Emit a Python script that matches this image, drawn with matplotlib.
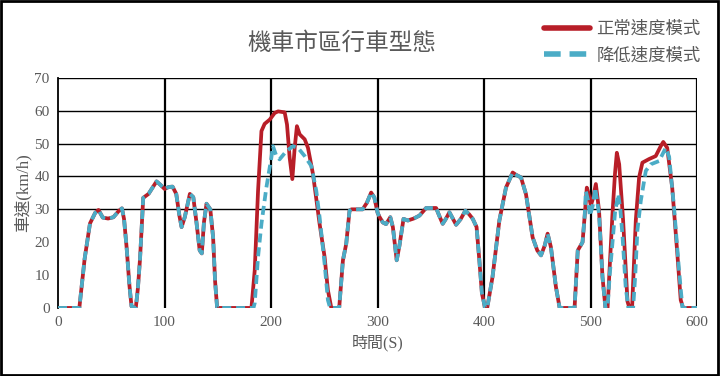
import matplotlib
matplotlib.use("Agg")
import matplotlib.pyplot as plt
from matplotlib.patches import Rectangle

plt.rcParams['font.family'] = ['Liberation Serif', 'Noto Sans CJK TC', 'DejaVu Sans']

title = "機車市區行車型態"
xlabel = "時間(S)"
ylabel = "車速(km/h)"
label_normal = "正常速度模式"
label_reduced = "降低速度模式"

t_normal = [0, 20, 25, 30, 35, 38, 42, 47, 52, 57, 60, 62, 64.4, 67, 69, 73, 75, 77, 80, 85,
            90, 92.5, 96, 100, 104, 107.5, 111, 114, 116, 119, 123.8, 127, 130, 133, 135, 137,
            139.4, 143, 145.6, 147.5, 149.4, 181.6, 184.7, 187.8, 191, 194, 198.8, 203.4, 206.6,
            212.8, 215, 217.5, 220, 222.2, 224.3, 226.9, 231.6, 234.7, 239.4, 245.6, 250.3, 253.4,
            256.6, 264, 267.5, 270.6, 273.7, 275.5, 286, 290, 294, 297, 300, 302, 305, 308, 312,
            314.4, 318, 320.6, 324.4, 328.4, 334, 339.4, 345.6, 355, 358, 361.2, 364, 367.5, 373.8,
            378, 382.5, 386, 389.4, 393, 395.6, 398, 401, 403, 408, 414.4, 420.6, 426.9, 430,
            434.7, 439.4, 445.6, 450, 453.5, 457, 459.7, 462.8, 467.5, 471, 485, 488, 492.5, 495,
            496.5, 498, 500.3, 502, 505, 508, 511.2, 514, 516, 520.6, 523, 524.7, 526.9, 530.6,
            534.7, 536.5, 539, 542.5, 545.6, 548.7, 555, 561.2, 565.9, 568.3, 572, 576.7, 581.5,
            584.7, 587, 600]
v_normal = [0, 0, 15, 25.7, 29, 29.8, 27.5, 27.2, 27.6, 29.5, 30.3, 27, 18.4, 7, 0.5, 0, 6, 15,
            33.5, 34.7, 37.2, 38.5, 37.5, 36.2, 36.8, 36.9, 34.7, 28, 24.6, 27.6, 34.7, 33.7, 26,
            17.5, 16.6, 26, 31.7, 30, 21.5, 8, 0, 0, 11.5, 35.6, 53.8, 56, 57.3, 59.3, 59.8, 59.5,
            55.8, 45.7, 39.2, 48.7, 55.3, 52.8, 51.3, 48.7, 40.7, 25.6, 15.5, 5.4, 0, 0, 14.5,
            19.5, 29.6, 30, 30, 32, 35.1, 33.6, 29, 27.6, 26, 25.5, 27.6, 24.6, 14.5, 19, 27.1,
            26.6, 27.2, 28.1, 30.4, 30.4, 28, 25.6, 27, 29.1, 25.3, 27, 29.6, 28.5, 27.1, 24.6,
            14.5, 4.5, 0, 0, 9.5, 26.6, 36.6, 41.2, 40.5, 39.7, 34.6, 21.5, 17.5, 16, 19, 22.6,
            18.5, 6.4, 0, 0, 17.5, 20, 30, 36.6, 35, 31.1, 33, 37.7, 29.6, 9.5, 0, 0, 28.6, 41,
            47.2, 43.7, 26.6, 2, 0, 0, 26.6, 39.7, 44.2, 45.3, 46.2, 49.2, 50.5, 48.7, 36.6, 16.5,
            2.4, 0, 0]

t_reduced = [0, 20, 25, 30, 35, 38, 42, 47, 52, 57, 60, 62, 64.4, 67, 69, 73, 75, 77, 80, 85,
             90, 92.5, 96, 100, 104, 107.5, 111, 114, 116, 119, 123.8, 127, 130, 133, 135, 137,
             139.4, 143, 145.6, 147.5, 149.4, 183.5, 184.7, 187.8, 191, 195.6, 200.3, 201.8, 205,
             208, 214.4, 220.6, 225.3, 231.6, 237.8, 242.5, 245.6, 250.3, 253.4, 255.5, 264,
             267.5, 270.6, 273.7, 275.5, 286, 290, 294, 297, 300, 302, 305, 308, 312, 314.4, 318,
             320.6, 324.4, 328.4, 334, 339.4, 345.6, 355, 358, 361.2, 364, 367.5, 373.8, 378,
             382.5, 386, 389.4, 393, 395.6, 398, 401, 403, 408, 414.4, 420.6, 426.9, 430, 434.7,
             439.4, 445.6, 450, 453.5, 457, 459.7, 462.8, 467.5, 471, 485, 488, 492.5, 494.5,
             495.6, 497.5, 499.4, 502, 504.4, 508, 511.2, 514, 516, 518, 520.6, 523, 526, 528, 530,
             533, 535.5, 540, 542, 544, 547.2, 551.9, 556.6, 564.4, 568, 570.6, 573.8, 578.4,
             583.1, 586.3, 600]
v_reduced = [0, 0, 15, 25.7, 29, 29.8, 27.5, 27.2, 27.6, 29.5, 30.3, 27, 18.4, 7, 0.5, 0, 6, 15,
             33.5, 34.7, 37.2, 38.5, 37.5, 36.2, 36.8, 36.9, 34.7, 28, 24.6, 27.6, 34.7, 33.7, 26,
             17.5, 16.6, 26, 31.7, 30, 21.5, 8, 0, 0, 1.5, 15.5, 25.6, 36.6, 45.7, 49.2, 46.2,
             45.2, 47.7, 49.2, 48.7, 46.2, 43.2, 35.6, 27.6, 13.5, 2.4, 0, 0, 14.5, 19.5, 29.6,
             30, 30, 32, 35.1, 33.6, 29, 27.6, 26, 25.5, 27.6, 24.6, 14.5, 19, 27.1, 26.6, 27.2,
             28.1, 30.4, 30.4, 28, 25.6, 27, 29.1, 25.3, 27, 29.6, 28.5, 27.1, 24.6, 14.5, 4.5, 0,
             0, 9.5, 26.6, 36.6, 41.2, 40.5, 39.7, 34.6, 21.5, 17.5, 16, 19, 22.6, 18.5, 6.4, 0,
             0, 17.5, 20, 28, 35.5, 33, 28, 31, 36.5, 28.6, 9.5, 0, 0, 10, 20, 29, 34.6, 30, 22,
             6.4, 0, 0, 10, 23.6, 32.6, 41.7, 43.7, 44.7, 47, 48.7, 46, 30.6, 11.5, 0, 0]

x_ticks = [0, 100, 200, 300, 400, 500, 600]
y_ticks = [0, 10, 20, 30, 40, 50, 60, 70]
y_grid = [30, 40, 50, 60, 70]

red = '#B81E28'
blue = '#4BACC6'
text_col = '#595959'

fig = plt.figure(figsize=(7.2, 3.76), dpi=100)
ax = fig.add_axes([0.0806, 0.181, 0.8875, 0.612])

for g in y_grid:
    ax.axhline(g, color='black', lw=1.0, zorder=1)
for g in x_ticks[1:]:
    ax.axvline(g, color='black', lw=1.6, zorder=1)

ax.plot(t_normal, v_normal, color=red, lw=2.7, label=label_normal, zorder=3,
        solid_joinstyle='round', solid_capstyle='round')
ax.plot(t_reduced, v_reduced, color=blue, lw=2.7, linestyle=(0, (2.4, 1.3)),
        label=label_reduced, zorder=4)

ax.set_xlim(0, 600)
ax.set_ylim(0, 70)
ax.set_xticks(x_ticks)
ax.set_yticks(y_ticks)
ax.tick_params(length=0, labelsize=11, colors=text_col, pad=6)
for s in ['top', 'right', 'bottom']:
    ax.spines[s].set_visible(False)
ax.spines['left'].set_color('black')
ax.spines['left'].set_linewidth(1.3)

ax.set_xlabel(xlabel, fontsize=11.5, color=text_col, labelpad=4)
ax.set_ylabel(ylabel, fontsize=12, color=text_col, labelpad=2)
fig.text(0.475, 0.885, title, fontsize=17, color=text_col, ha='center', va='center')

leg = fig.legend(loc='upper right', bbox_to_anchor=(0.995, 0.985), frameon=False,
                 fontsize=12.5, handlelength=2.6, handletextpad=0.4, labelspacing=0.6,
                 labelcolor=text_col)
leg.get_lines()[0].set_linewidth(4.0)
leg.get_lines()[1].set_linewidth(4.0)
leg.get_lines()[1].set_dashes([3.0, 1.6])

fig.patches.append(Rectangle((0.002, 0.003), 0.995, 0.994, transform=fig.transFigure,
                             fill=False, edgecolor='black', lw=2.0))

fig.savefig('out.png', dpi=100)
